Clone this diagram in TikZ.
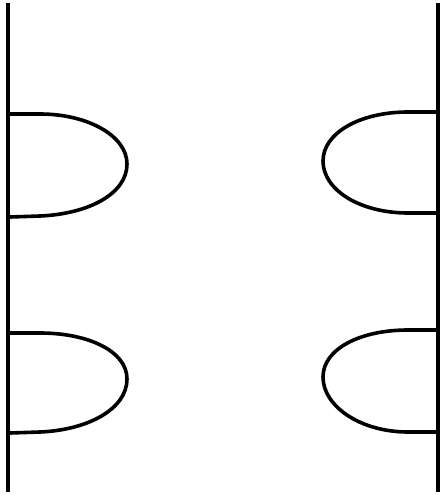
\documentclass[tikz,border=0pt]{standalone}
\usepackage{tikz}

\begin{document}
\begin{tikzpicture}[x=1pt,y=-1pt,line width=3.6pt]
\useasboundingbox (0,0) rectangle (443,495);
% walls
\draw[line width=4pt] (8,3) -- (8,492);
\draw[line width=4pt] (438,3) -- (438,492);
% left caps
\foreach \t/\m/\b in {114/164/217,333/379/433} {
  \draw (8,\t) -- (40,\t) .. controls (88,\t) and (127,\m-28) .. (127,\m)
    .. controls (127,\m+30) and (88,\b-3) .. (40,\b-1) -- (10,\b);
}
% right caps
\foreach \t/\m/\b in {112/161/213,330/377/432} {
  \draw (438,\t) -- (408,\t) .. controls (360,\t) and (323,\m-28) .. (323,\m)
    .. controls (323,\m+29) and (360,\b) .. (408,\b) -- (438,\b);
}
\end{tikzpicture}
\end{document}
